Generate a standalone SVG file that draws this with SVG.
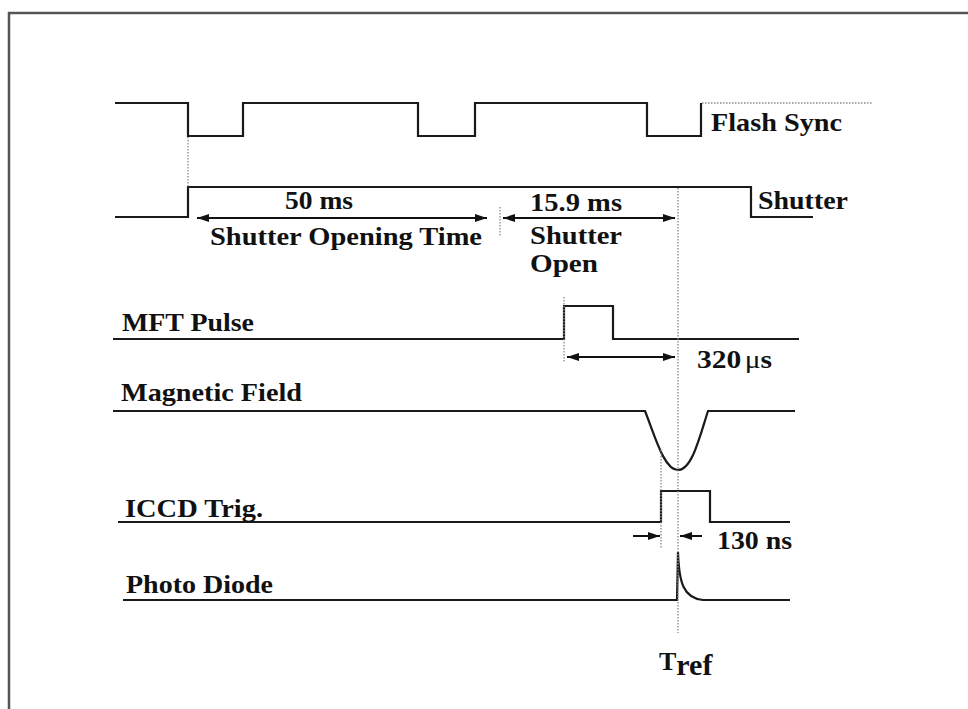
<svg xmlns="http://www.w3.org/2000/svg" width="968" height="709" viewBox="0 0 968 709">
<defs>
<marker id="ah" viewBox="0 0 12 8" refX="12" refY="4" markerWidth="12" markerHeight="8" markerUnits="userSpaceOnUse" orient="auto-start-reverse">
<path d="M0,0 L12,4 L0,8 z" fill="#111"/>
</marker>
<style>
.sig{fill:none;stroke:#1a1a1a;stroke-width:2.2;stroke-linejoin:miter}
.dot{fill:none;stroke:#8a8a8a;stroke-width:1.3;stroke-dasharray:1.5 1.5}
.arr{fill:none;stroke:#111;stroke-width:2;marker-end:url(#ah)}
.arr2{fill:none;stroke:#111;stroke-width:2;marker-start:url(#ah);marker-end:url(#ah)}
.lbl{font-family:"Liberation Serif","Times New Roman",serif;font-weight:bold;font-size:26px;fill:#111}
</style>
</defs>
<rect width="968" height="709" fill="#fff"/>
<path d="M9,709 V13 H968" fill="none" stroke="#555" stroke-width="2.5"/>

<g id="flash-sync">
<path class="sig" d="M115,103 H188 V136 H243 V103 H418 V136 H475 V103 H647 V136 H701 V103"/>
<text class="lbl" x="711" y="131" textLength="131" lengthAdjust="spacingAndGlyphs">Flash Sync</text>
</g>

<g id="shutter">
<path class="sig" d="M115,217 H188 V187 H751 V217 H813"/>
<text class="lbl" x="758" y="209" textLength="90" lengthAdjust="spacingAndGlyphs">Shutter</text>
</g>

<g id="mft-pulse">
<path class="sig" d="M113,339 H564 V306 H613 V339 H799"/>
<text class="lbl" x="122" y="331" textLength="132" lengthAdjust="spacingAndGlyphs">MFT Pulse</text>
</g>

<g id="magnetic-field">
<path class="sig" d="M113,411 H645 C655,436 664,470 678,470 C692,470 700,436 708,411 H795"/>
<text class="lbl" x="121" y="401" textLength="181" lengthAdjust="spacingAndGlyphs">Magnetic Field</text>
</g>

<g id="iccd-trig">
<path class="sig" d="M118,522 H661 V491 H710 V522 H790"/>
<text class="lbl" x="125" y="517" textLength="138" lengthAdjust="spacingAndGlyphs">ICCD Trig.</text>
</g>

<g id="photo-diode">
<path class="sig" d="M123,600 H677 L678,552 C679,582 683,598 703,600 H790"/>
<text class="lbl" x="126" y="593" textLength="147" lengthAdjust="spacingAndGlyphs">Photo Diode</text>
</g>

<g id="connectors">
<path class="dot" d="M702,103 H873"/>
<path class="dot" d="M188,137 V187"/>
<path class="dot" d="M500,207 V237"/>
<path class="dot" d="M678,188 V633"/>
<path class="dot" d="M564,297 V362"/>
<path class="dot" d="M661,450 V548"/>
<path class="arr2" d="M197,218 H487"/>
<path class="arr2" d="M503,218 H675"/>
<path class="arr2" d="M567,357 H675"/>
<path class="arr" d="M633,536 H660"/>
<path class="arr" d="M702,536 H680"/>
</g>

<g id="annotations">
<text class="lbl" x="285" y="209" textLength="68" lengthAdjust="spacingAndGlyphs">50 ms</text>
<text class="lbl" x="210" y="245" textLength="272" lengthAdjust="spacingAndGlyphs">Shutter Opening Time</text>
<text class="lbl" x="530" y="211" textLength="92" lengthAdjust="spacingAndGlyphs">15.9 ms</text>
<text class="lbl" x="530" y="244" textLength="92" lengthAdjust="spacingAndGlyphs">Shutter</text>
<text class="lbl" x="530" y="272" textLength="68" lengthAdjust="spacingAndGlyphs">Open</text>
<text class="lbl" x="697" y="368" textLength="75" lengthAdjust="spacingAndGlyphs">320<tspan font-weight="normal" dx="3">μ</tspan>s</text>
<text class="lbl" x="717" y="549" textLength="75" lengthAdjust="spacingAndGlyphs">130 ns</text>
<text class="lbl" x="659" y="670" font-size="34">T<tspan font-size="30" dy="5">ref</tspan></text>
</g>
</svg>
